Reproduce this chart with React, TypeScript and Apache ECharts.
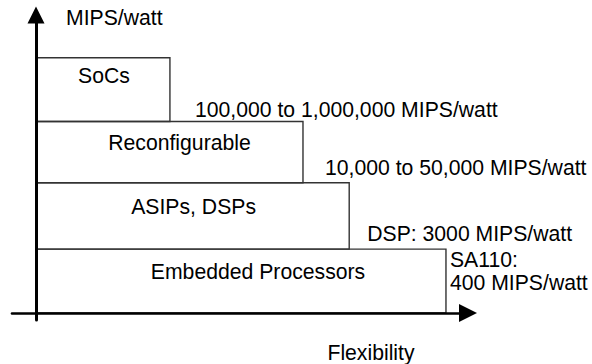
import React, { useEffect, useRef } from "react";
import * as echarts from "echarts";

// ---- data ----
const categories = ["Embedded Processors", "ASIPs, DSPs", "Reconfigurable", "SoCs"];
const flexibility = [94.9, 72.5, 61.8, 31.0]; // right edge of each tier (flexibility)
const tierBottom = [0, 1, 2.04, 3];
const tierTop = [1, 2.04, 3, 4];
const efficiencyNotes = [
  "SA110:\n400 MIPS/watt",
  "DSP: 3000 MIPS/watt",
  "10,000 to 50,000 MIPS/watt",
  "100,000 to 1,000,000 MIPS/watt",
];
const xAxisName = "Flexibility";
const yAxisName = "MIPS/watt";

// ---- styling (not data) ----
const FONT = '"Liberation Sans", Arial, Helvetica, sans-serif';
const FS = 21.2;
const LINE_GAP = 22.6;
const labelDx = [17, 1, 10, 1];
const labelDy = [22.5, 23.5, 20.5, 17.5];
// note anchor: [dx from right edge, dy (middle of first line), anchorFrom ('top'|'bottom')]
const noteAnchor: [number, number, string][] = [
  [4, 10.8, "top"],
  [18, -16, "bottom"],
  [22, -15.5, "bottom"],
  [25, -12.5, "bottom"],
];
const ARROW = "path://M5,0 L10,10 L0,10 Z";

export default function App() {
  const ref = useRef<HTMLDivElement>(null);
  useEffect(() => {
    if (!ref.current) return;
    const chart = echarts.init(ref.current, null, { renderer: "svg" });
    const data = categories.map((c, i) => [flexibility[i], tierBottom[i], tierTop[i]]);
    chart.setOption({
      animation: false,
      backgroundColor: "#fff",
      grid: { left: 12, right: 124, top: 15, bottom: 44, containLabel: false, outerBoundsMode: "none" },
      xAxis: {
        type: "value",
        min: -5.56,
        max: 100,
        z: 10,
        name: xAxisName,
        nameLocation: "middle",
        nameGap: 32,
        nameTextStyle: {
          fontFamily: FONT,
          fontSize: FS,
          color: "#000",
          align: "center",
          verticalAlign: "middle",
          padding: [0, 0, 0, 262],
        },
        axisLine: {
          show: true,
          onZero: true,
          symbol: ["none", ARROW],
          symbolSize: [18, 18],
          lineStyle: { color: "#000", width: 2.6 },
        },
        axisTick: { show: false },
        axisLabel: { show: false },
        splitLine: { show: false },
      },
      yAxis: {
        type: "value",
        min: -0.11,
        max: 4.67,
        z: 10,
        name: yAxisName,
        nameLocation: "end",
        nameGap: -2,
        nameTextStyle: {
          fontFamily: FONT,
          fontSize: FS,
          color: "#000",
          align: "left",
          verticalAlign: "middle",
          padding: [0, 0, 0, 30],
        },
        axisLine: {
          show: true,
          onZero: true,
          symbol: ["none", ARROW],
          symbolSize: [18, 17],
          lineStyle: { color: "#000", width: 3 },
        },
        axisTick: { show: false },
        axisLabel: { show: false },
        splitLine: { show: false },
      },
      series: [
        {
          type: "custom",
          z: 1,
          data,
          encode: { x: 0, y: [1, 2] },
          renderItem: (params: any, api: any) => {
            const i = params.dataIndex;
            const tl = api.coord([0, api.value(2)]);
            const br = api.coord([api.value(0), api.value(1)]);
            const [ndx, ndy, from] = noteAnchor[i];
            const noteY = from === "top" ? tl[1] + ndy : br[1] + ndy;
            const noteLines = efficiencyNotes[i].split("\n");
            return {
              type: "group",
              children: [
                {
                  type: "rect",
                  shape: { x: tl[0], y: tl[1], width: br[0] - tl[0], height: br[1] - tl[1] },
                  style: { fill: "none", stroke: "#333", lineWidth: 1.4 },
                },
                {
                  type: "text",
                  x: (tl[0] + br[0]) / 2 + labelDx[i],
                  y: tl[1] + labelDy[i],
                  style: {
                    text: categories[i],
                    font: `${FS}px ${FONT}`,
                    fill: "#000",
                    align: "center",
                    verticalAlign: "middle",
                  },
                },
                ...noteLines.map((line, k) => ({
                  type: "text",
                  x: br[0] + ndx,
                  y: noteY + k * LINE_GAP,
                  style: {
                    text: line,
                    font: `${FS}px ${FONT}`,
                    fill: "#000",
                    align: "left",
                    verticalAlign: "middle",
                  },
                })),
              ],
            };
          },
        },
      ],
    });
    return () => chart.dispose();
  }, []);
  return (
    <div
      ref={ref}
      style={{ position: "fixed", left: 0, top: 0, width: 592, height: 364, background: "#fff" }}
    />
  );
}
